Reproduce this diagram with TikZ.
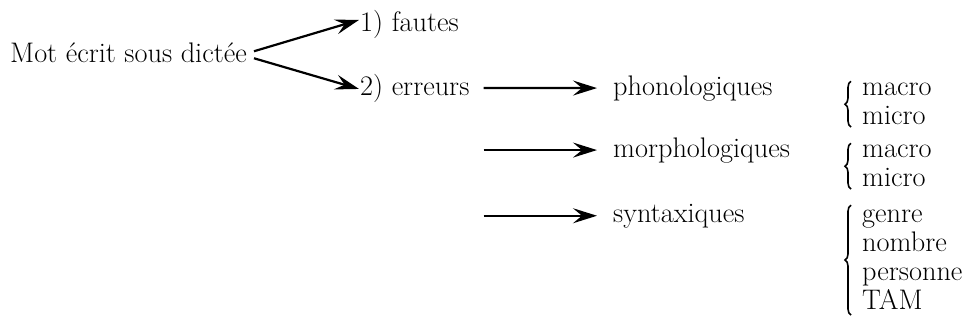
\documentclass[tikz,border=0pt]{standalone}
\usepackage{fontspec}
\usetikzlibrary{arrows.meta,decorations.pathreplacing,calc}
\begin{document}
\begin{tikzpicture}[x=1pt,y=-1pt,
  lbl/.style={anchor=base west,inner sep=0pt,font=\rmfamily\fontsize{28.3pt}{30pt}\selectfont},
  arr/.style={line width=2.2pt,-{Stealth[length=24pt,width=15pt,inset=9pt]}},
  brc/.style={decorate,decoration={brace,amplitude=6pt,aspect=0.5},line width=1.6pt}]
\useasboundingbox (0,0) rectangle (962,327);
% main labels
\node[lbl] (mot) at (10,62) {Mot écrit sous dictée};
\node[lbl] (fautes) at (360,31) {1) fautes};
\node[lbl] (erreurs) at (360,95) {2) erreurs};
\node[lbl] (phono) at (613,95) {phonologiques};
\node[lbl] (morph) at (613,157) {morphologiques};
\node[lbl] (synt) at (613,222) {syntaxiques};
% sub-lists
\node[lbl] (macroa) at (862,95) {macro};
\node[lbl] (microa) at (862,124) {micro};
\node[lbl] (macrob) at (862,157) {macro};
\node[lbl] (microb) at (862,186) {micro};
\node[lbl] (genre) at (862,222) {genre};
\node[lbl] (nombre) at (862,251) {nombre};
\node[lbl] (personne) at (862,280) {personne};
\node[lbl] (tam) at (862,309) {TAM};
% connectors
\draw[arr] ([xshift=7pt,yshift=1pt]mot.east) -- ([xshift=-1pt,yshift=4pt]fautes.west);
\draw[arr] ([xshift=7pt,yshift=-6pt]mot.east) -- ([xshift=-1pt,yshift=-1pt]erreurs.west);
\coordinate (ms) at ($(erreurs.east |- morph.west)+(14,0)$);
\coordinate (ss) at ($(erreurs.east |- synt.west)+(14,0)$);
\draw[arr] ([xshift=14pt]erreurs.east) -- ([xshift=-16pt]phono.west);
\draw[arr] (ms) -- ([xshift=-16pt]morph.west);
\draw[arr] (ss) -- ([xshift=-16pt]synt.west);
% braces
\draw[brc] ([xshift=-11pt,yshift=-3pt]microa.base west) -- ([xshift=-11pt,yshift=1pt]macroa.north west);
\draw[brc] ([xshift=-11pt,yshift=-3pt]microb.base west) -- ([xshift=-11pt,yshift=1pt]macrob.north west);
\draw[brc] ([xshift=-11pt,yshift=-6pt]tam.base west) -- ([xshift=-11pt,yshift=4pt]genre.north west);
\end{tikzpicture}
\end{document}
